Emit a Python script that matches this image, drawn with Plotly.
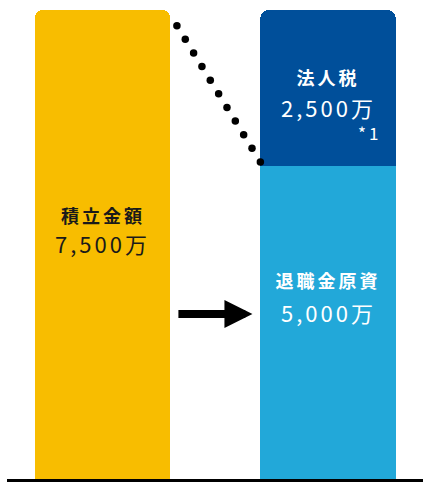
import numpy as np
import plotly.graph_objects as go

# ---- data ----
categories = ["積立金額", "退職金原資"]
reserve_values = [7500, None]        # 積立金額
retirement_values = [None, 5000]     # 退職金原資
tax_values = [None, 2500]            # 法人税
label_names = ["積立金額", "退職金原資", "法人税"]
value_labels = ["7,500万", "5,000万", "2,500万"]
note_label = "*1"

YELLOW = "#F8BD00"
DARK_BLUE = "#004F9A"
LIGHT_BLUE = "#22A8D9"
FONT = "Noto Sans CJK JP"

xpos = [0, 1]
BAR_W = 0.6

fig = go.Figure()
fig.add_trace(go.Bar(x=xpos, y=reserve_values, width=BAR_W, marker=dict(color=YELLOW, line=dict(width=0)),
                     hoverinfo="skip", showlegend=False))
fig.add_trace(go.Bar(x=xpos, y=retirement_values, width=BAR_W, marker=dict(color=LIGHT_BLUE, line=dict(width=0)),
                     hoverinfo="skip", showlegend=False))
fig.add_trace(go.Bar(x=xpos, y=tax_values, width=BAR_W, marker=dict(color=DARK_BLUE, line=dict(width=0)),
                     hoverinfo="skip", showlegend=False))

# dotted connector from top of reserve bar to top of retirement section
x_start = xpos[0] + BAR_W / 2 + 0.03
x_end = xpos[1] - BAR_W / 2
y_start = reserve_values[0] - 250
y_end = retirement_values[1] + 70
n_dots = 11
fig.add_trace(go.Scatter(x=np.linspace(x_start, x_end, n_dots), y=np.linspace(y_start, y_end, n_dots),
                         mode="markers", marker=dict(size=7.5, color="black"),
                         hoverinfo="skip", showlegend=False))

annotations = []
# arrow
arrow_y = 2640
annotations.append(dict(x=xpos[1] - BAR_W / 2 - 0.035, y=arrow_y, ax=xpos[0] + BAR_W / 2 + 0.03, ay=arrow_y,
                        xref="x", yref="y", axref="x", ayref="y", text="", showarrow=True,
                        arrowhead=2, arrowwidth=8, arrowsize=0.7, arrowcolor="black"))

def txt(x, y, t, color, size, weight="normal"):
    annotations.append(dict(x=x, y=y, xref="x", yref="y", text=t, showarrow=False,
                            xanchor="center", yanchor="middle", align="center", borderpad=0,
                            font=dict(family=FONT, size=size, color=color, weight=weight)))

txt(xpos[0], 4220, label_names[0], "#1a1a1a", 18, "bold")
txt(xpos[0], 3775, value_labels[0], "#1a1a1a", 22)
txt(xpos[1], 6430, label_names[2], "white", 18, "bold")
txt(xpos[1], 5950, value_labels[2], "white", 22)
txt(xpos[1] + 0.185, 5545, note_label, "white", 17)
txt(xpos[1], 3190, label_names[1], "white", 18, "bold")
txt(xpos[1], 2670, value_labels[1], "white", 22)

fig.update_layout(
    width=423, height=482,
    margin=dict(l=7, r=0, t=0, b=3),
    paper_bgcolor="white", plot_bgcolor="white",
    barmode="stack", barcornerradius=8,
    xaxis=dict(range=[-0.4235, 1.4213], showgrid=False, zeroline=False, showticklabels=False,
               showline=True, linewidth=3, linecolor="black", ticks="", fixedrange=True),
    yaxis=dict(range=[0, 7660], showgrid=False, zeroline=False, showticklabels=False,
               showline=False, ticks="", fixedrange=True),
    annotations=annotations,
)

fig.write_html(
    "out.html", config={"displayModeBar": False},
    post_script=(
        "document.body.style.margin='0';"
        "document.querySelectorAll('.annotation-text').forEach(function(t){t.style.letterSpacing='3px';});"
    ),
)
